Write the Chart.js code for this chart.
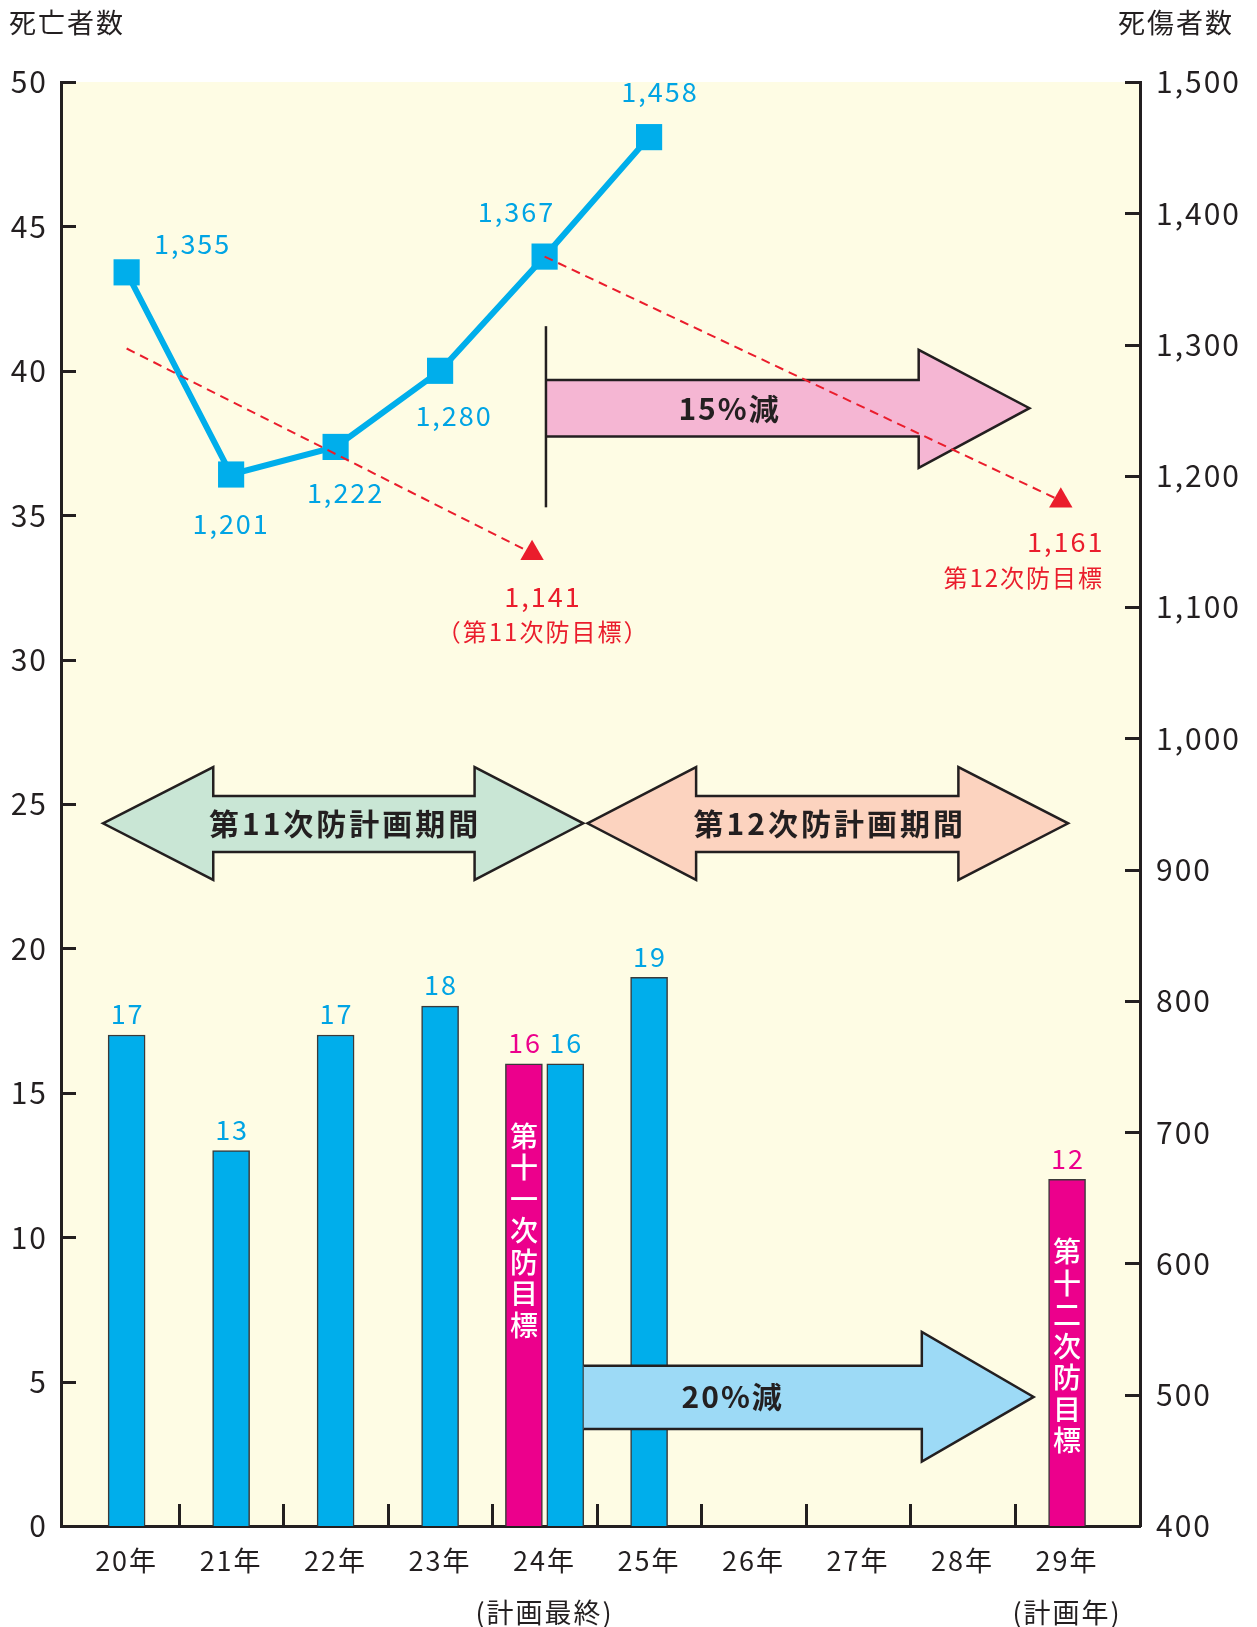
<!DOCTYPE html>
<html>
<head>
<meta charset="utf-8">
<script src="https://cdn.jsdelivr.net/npm/chart.js@4.4.1/dist/chart.umd.min.js"></script>
<style>
  html, body { margin: 0; padding: 0; background: #fff; }
  #wrap { width: 1257px; height: 1627px; }
</style>
</head>
<body>
<div id="wrap"><canvas id="chart" width="1257" height="1627"></canvas></div>
<script>
// data
const years = ['20年', '21年', '22年', '23年', '24年', '25年', '26年', '27年', '28年', '29年'];
const yearNotes = ['', '', '', '', '(計画最終)', '', '', '', '', '(計画年)'];
const deaths = [17, 13, 17, 18, 16, 19, null, null, null, null];
const deathTargets = [null, null, null, null, 16, null, null, null, null, 12];
const targetCaptions = ['', '', '', '', '第十一次防目標', '', '', '', '', '第十二次防目標'];
const casualties = [1355, 1201, 1222, 1280, 1367, 1458, null, null, null, null];
const deathTicks = [0, 5, 10, 15, 20, 25, 30, 35, 40, 45, 50];
const casualtyTicks = [400, 500, 600, 700, 800, 900, 1000, 1100, 1200, 1300, 1400, 1500];

// red dashed target lines (x in year index)
const plan11X = [0, 3.88];
const plan11Y = [1297, 1141];
const plan12X = [4, 8.94];
const plan12Y = [1367, 1181];
const targetMarkX = [3.88, 8.94];
const targetMarkY = [1141, 1181];
const targetLabels = ['1,141', '1,161'];
const targetNotes = ['（第11次防目標）', '第12次防目標'];

const FONT = "'Noto Sans CJK JP', 'Noto Sans', sans-serif";
const INK = '#231f20';
const BLUE = '#00aeeb';
const BLUE_TEXT = '#00a4e4';
const PINK = '#ec008c';
const RED = '#ea1d2c';
const PAIR_SHIFT = 0.198;

function barX(i, isTarget) {
  if (deaths[i] != null && deathTargets[i] != null) return isTarget ? i - PAIR_SHIFT : i + PAIR_SHIFT;
  return i;
}
const toPoints = (arr, isTarget) => arr.map((v, i) => v == null ? null : { x: barX(i, isTarget), y: v }).filter(Boolean);
const zip = (xs, ys) => xs.map((x, i) => ({ x: x, y: ys[i] }));

// plugins
const background = {
  id: 'background',
  beforeDraw(chart) {
    const { ctx, chartArea: a } = chart;
    ctx.save();
    ctx.fillStyle = '#fefce4';
    ctx.fillRect(a.left, a.top, a.right - a.left, a.bottom - a.top);
    ctx.restore();
    ctx.letterSpacing = '2px';
  }
};

function text(ctx, str, x, y, font, color, align) {
  ctx.font = font;
  ctx.fillStyle = color;
  ctx.textAlign = align || 'center';
  ctx.textBaseline = 'middle';
  ctx.fillText(str, x, y);
}

function drawArrows(chart) {
  const { ctx, scales: { x, y, y2 } } = chart;
  ctx.save();
  ctx.strokeStyle = INK;
  ctx.lineWidth = 2.5;
  ctx.lineJoin = 'miter';

  // period double arrows
  const periods = [
    { from: -0.226, headL: 0.829, headR: 3.33, to: 4.37, label: '第11次防計画期間', fill: '#c9e6d5' },
    { from: 4.41, headL: 5.45, headR: 7.96, to: 9.01, label: '第12次防計画期間', fill: '#fcd3bf' }
  ];
  const yc = y.getPixelForValue(24.33);
  const sT = y.getPixelForValue(25.28), sB = y.getPixelForValue(23.34);
  const hT = y.getPixelForValue(26.28), hB = y.getPixelForValue(22.37);
  periods.forEach(p => {
    const x0 = x.getPixelForValue(p.from), x1 = x.getPixelForValue(p.headL);
    const x2 = x.getPixelForValue(p.headR), x3 = x.getPixelForValue(p.to);
    ctx.beginPath();
    ctx.moveTo(x0, yc);
    ctx.lineTo(x1, hT); ctx.lineTo(x1, sT); ctx.lineTo(x2, sT); ctx.lineTo(x2, hT);
    ctx.lineTo(x3, yc);
    ctx.lineTo(x2, hB); ctx.lineTo(x2, sB); ctx.lineTo(x1, sB); ctx.lineTo(x1, hB);
    ctx.closePath();
    ctx.fillStyle = p.fill;
    ctx.fill();
    ctx.stroke();
    ctx.letterSpacing = '3px';
    text(ctx, p.label, (x0 + x3) / 2 + 2, yc, 'bold 30px ' + FONT, INK);
  });

  // reduction arrows
  const blueMeta = chart.getDatasetMeta(0);
  const pairBar = blueMeta.data[4];
  const reductions = [
    { scale: y2, from: x.getPixelForValue(4.013), head: 7.58, to: 8.64, shaft: [1273, 1230], span: [1296, 1206], mid: 1251.5, label: '15%減', fill: '#f5b6d3', textX: 5.77 },
    { scale: y, from: pairBar.x + pairBar.width / 2, head: 7.61, to: 8.68, shaft: [5.55, 3.36], span: [6.72, 2.23], mid: 4.47, label: '20%減', fill: '#9ddaf6', textX: 5.8 }
  ];
  reductions.forEach(r => {
    const x0 = r.from, x1 = x.getPixelForValue(r.head), x2 = x.getPixelForValue(r.to);
    const t = r.scale.getPixelForValue(r.shaft[0]), b = r.scale.getPixelForValue(r.shaft[1]);
    const ht = r.scale.getPixelForValue(r.span[0]), hb = r.scale.getPixelForValue(r.span[1]);
    const m = r.scale.getPixelForValue(r.mid);
    ctx.beginPath();
    ctx.moveTo(x0, t); ctx.lineTo(x1, t); ctx.lineTo(x1, ht); ctx.lineTo(x2, m);
    ctx.lineTo(x1, hb); ctx.lineTo(x1, b); ctx.lineTo(x0, b);
    ctx.fillStyle = r.fill;
    ctx.fill();
    ctx.stroke();
    ctx.letterSpacing = '2px';
    text(ctx, r.label, x.getPixelForValue(r.textX), m, 'bold 30px ' + FONT, INK);
  });

  // start bar of the 15% arrow
  const vx = x.getPixelForValue(4.013);
  ctx.beginPath();
  ctx.moveTo(vx, y2.getPixelForValue(1314));
  ctx.lineTo(vx, y2.getPixelForValue(1176));
  ctx.stroke();
  ctx.restore();
}

function drawBarCaptions(chart) {
  const { ctx } = chart;
  const meta = chart.getDatasetMeta(1);
  ctx.save();
  ctx.letterSpacing = '0px';
  let k = 0;
  deathTargets.forEach((v, i) => {
    if (v == null) return;
    const bar = meta.data[k++];
    const chars = Array.from(targetCaptions[i]);
    chars.forEach((c, j) => {
      text(ctx, c, bar.x, bar.y + 72 + j * 31.5, '500 28px ' + FONT, '#ffffff');
    });
  });
  ctx.restore();
}

const overlays = {
  id: 'overlays',
  afterDatasetDraw(chart, args) {
    if (args.index === 1) {
      drawBarCaptions(chart);
      drawArrows(chart);
    }
  },
  afterDraw(chart) {
    const { ctx, chartArea: a, scales: { x, y, y2 } } = chart;
    ctx.save();
    // inner tick marks
    ctx.strokeStyle = INK;
    ctx.lineWidth = 3;
    ctx.beginPath();
    deathTicks.forEach(v => {
      if (v === 0) return;
      const py = Math.round(y.getPixelForValue(v)) + 0.5;
      ctx.moveTo(a.left, py); ctx.lineTo(a.left + 15, py);
    });
    casualtyTicks.forEach(v => {
      if (v === 400) return;
      const py = Math.round(y2.getPixelForValue(v)) + 0.5;
      ctx.moveTo(a.right - 15, py); ctx.lineTo(a.right, py);
    });
    years.slice(0, -1).forEach((_, i) => {
      const px = Math.round(x.getPixelForValue(i + 0.5)) + 0.5;
      ctx.moveTo(px, a.bottom); ctx.lineTo(px, a.bottom - 22);
    });
    ctx.stroke();

    ctx.letterSpacing = '2px';
    // bar values
    [[0, deaths, BLUE_TEXT], [1, deathTargets, PINK]].forEach(([di, arr, color]) => {
      const meta = chart.getDatasetMeta(di);
      arr.filter(v => v != null).forEach((v, k) => {
        const bar = meta.data[k];
        text(ctx, String(v), bar.x + 1, bar.y - 21, '27px ' + FONT, color);
      });
    });

    // casualty values
    const offsets = [[66, -29], [0, 49], [10, 46], [14, 45], [-28, -45], [11, -45]];
    const lineMeta = chart.getDatasetMeta(2);
    casualties.filter(v => v != null).forEach((v, k) => {
      const pt = lineMeta.data[k];
      text(ctx, v.toLocaleString('en-US'), pt.x + offsets[k][0], pt.y + offsets[k][1], '27px ' + FONT, BLUE_TEXT);
    });

    // target values
    const markMeta = chart.getDatasetMeta(5);
    const labelOffsets = [[11, 43], [5, 41]];
    const noteOffsets = [[11, 79], [-37, 77]];
    targetLabels.forEach((s, k) => {
      const pt = markMeta.data[k];
      text(ctx, s, pt.x + labelOffsets[k][0], pt.y + labelOffsets[k][1], '27px ' + FONT, RED);
      text(ctx, targetNotes[k], pt.x + noteOffsets[k][0], pt.y + noteOffsets[k][1], '24px ' + FONT, RED);
    });

    // axis titles
    text(ctx, '死亡者数', 9, 23, '27px ' + FONT, INK, 'left');
    text(ctx, '死傷者数', 1118, 23, '27px ' + FONT, INK, 'left');
    ctx.restore();
    ctx.letterSpacing = '0px';
  }
};

const ctx = document.getElementById('chart').getContext('2d');
const chart = new Chart(ctx, {
  type: 'bar',
  data: {
    datasets: [
      {
        label: '死亡者数',
        data: toPoints(deaths, false),
        backgroundColor: BLUE,
        borderColor: '#3a3a3a',
        borderWidth: 1.5,
        barThickness: 37,
        grouped: false,
        yAxisID: 'y',
        order: 4
      },
      {
        label: '死亡者数目標',
        data: toPoints(deathTargets, true),
        backgroundColor: PINK,
        borderColor: '#3a3a3a',
        borderWidth: 1.5,
        barThickness: 37,
        grouped: false,
        yAxisID: 'y',
        order: 3
      },
      {
        type: 'line',
        label: '死傷者数',
        data: casualties.map((v, i) => v == null ? null : { x: i, y: v }).filter(Boolean),
        borderColor: BLUE,
        borderWidth: 6,
        pointStyle: 'rect',
        pointRadius: 18.5,
        pointBackgroundColor: BLUE,
        pointBorderWidth: 0,
        yAxisID: 'y2',
        order: 2
      },
      {
        type: 'line',
        label: '第11次防目標',
        data: zip(plan11X, plan11Y),
        borderColor: RED,
        borderWidth: 2,
        borderDash: [9, 6],
        pointRadius: 0,
        yAxisID: 'y2',
        order: 1
      },
      {
        type: 'line',
        label: '第12次防目標',
        data: zip(plan12X, plan12Y),
        borderColor: RED,
        borderWidth: 2,
        borderDash: [9, 6],
        pointRadius: 0,
        yAxisID: 'y2',
        order: 1
      },
      {
        type: 'line',
        label: '目標',
        data: zip(targetMarkX, targetMarkY),
        showLine: false,
        pointStyle: 'triangle',
        pointRadius: 13.5,
        pointBackgroundColor: RED,
        pointBorderWidth: 0,
        yAxisID: 'y2',
        order: 0
      }
    ]
  },
  options: {
    responsive: false,
    animation: false,
    events: [],
    layout: { padding: { top: 82, left: 0, right: 0, bottom: 0 } },
    plugins: { legend: { display: false }, tooltip: { enabled: false } },
    scales: {
      x: {
        type: 'linear',
        offset: false,
        min: -0.628,
        max: 9.698,
        afterBuildTicks: s => { s.ticks = years.map((_, i) => ({ value: i })); },
        afterFit: s => { s.height = 101; },
        ticks: {
          autoSkip: false,
          maxRotation: 0,
          padding: 9,
          color: INK,
          font: { family: FONT, size: 27, lineHeight: '52px' },
          callback: v => yearNotes[v] ? [years[v], yearNotes[v]] : years[v]
        },
        grid: { display: false, drawTicks: false, offset: false },
        border: { display: true, color: INK, width: 3 }
      },
      y: {
        position: 'left',
        min: 0,
        max: 50,
        afterBuildTicks: s => { s.ticks = deathTicks.map(v => ({ value: v })); },
        afterFit: s => { s.width = 61; },
        ticks: { padding: 13, color: INK, font: { family: FONT, size: 30 } },
        grid: { display: false, drawTicks: false },
        border: { display: true, color: INK, width: 3 }
      },
      y2: {
        position: 'right',
        min: 400,
        max: 1500,
        afterBuildTicks: s => { s.ticks = casualtyTicks.map(v => ({ value: v })); },
        afterFit: s => { s.width = 117; },
        ticks: {
          padding: 16,
          color: INK,
          font: { family: FONT, size: 30 },
          callback: v => v.toLocaleString('en-US')
        },
        grid: { display: false, drawTicks: false },
        border: { display: true, color: INK, width: 3 }
      }
    }
  },
  plugins: [background, overlays]
});
</script>
</body>
</html>
